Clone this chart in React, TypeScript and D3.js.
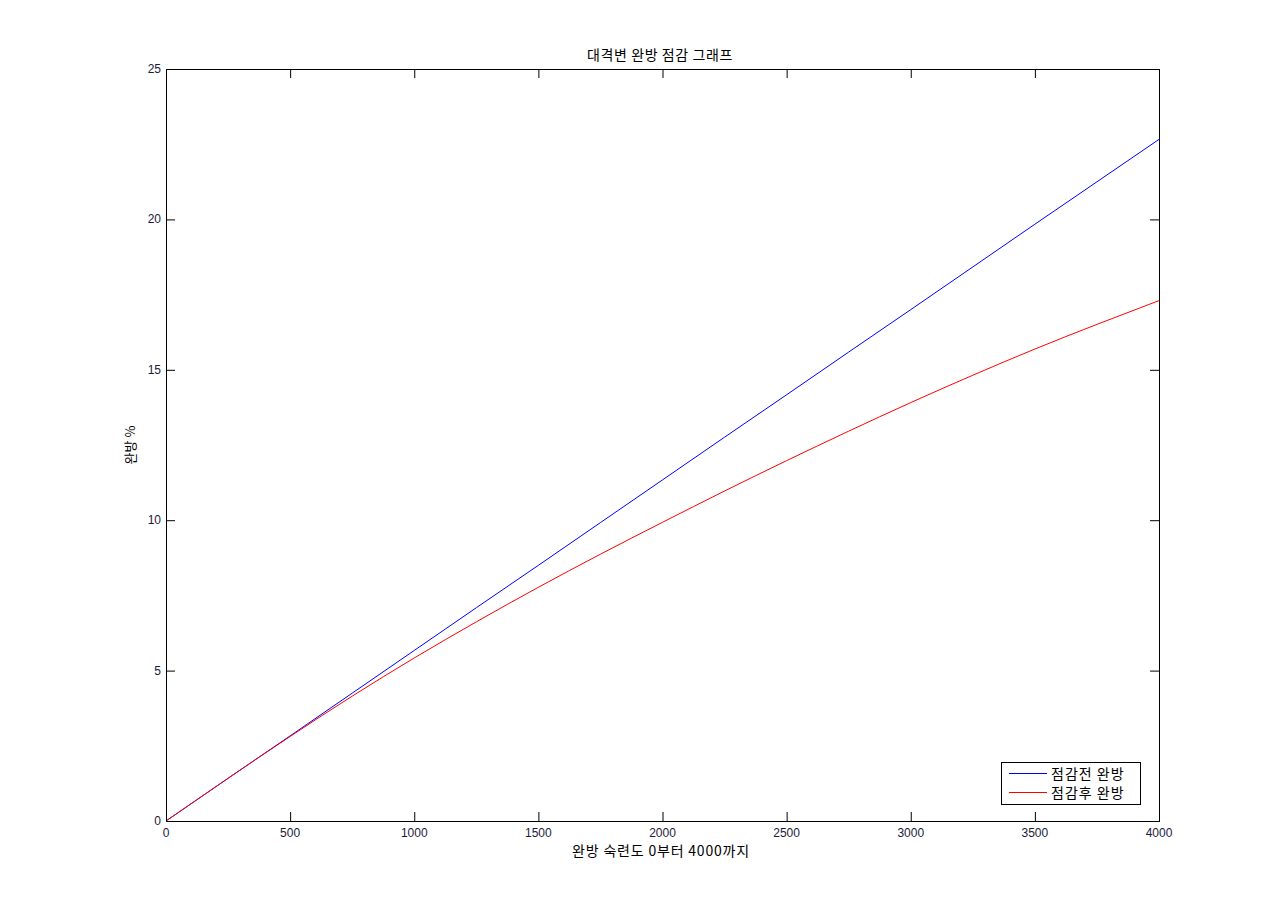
import React from "react";
import * as d3 from "d3";

const xValues = [0, 250, 500, 750, 1000, 1250, 1500, 1750, 2000, 2250, 2500, 2750, 3000, 3250, 3500, 3750, 4000];
const beforeValues = [0, 1.42, 2.83, 4.25, 5.67, 7.09, 8.5, 9.92, 11.34, 12.76, 14.17, 15.59, 17.0, 18.42, 19.84, 21.25, 22.66];
const afterValues = [0, 1.42, 2.81, 4.15, 5.42, 6.62, 7.77, 8.87, 9.93, 10.97, 11.98, 12.96, 13.91, 14.82, 15.69, 16.51, 17.3];
const xTicks = [0, 500, 1000, 1500, 2000, 2500, 3000, 3500, 4000];
const yTicks = [0, 5, 10, 15, 20, 25];
const seriesNames = ["점감전 완방", "점감후 완방"];
const seriesColors = ["#0000ff", "#ff0000"];
const title = "대격변 완방 점감 그래프";
const xLabel = "완방 숙련도 0부터 4000까지";
const yLabel = "완방 %";

export default function App() {
  const W = 1280, H = 922;
  const L = 166, R = 1159, T = 69, B = 821;
  const x = d3.scaleLinear().domain([0, 4000]).range([L, R]);
  const y = d3.scaleLinear().domain([0, 25]).range([B, T]);
  const line = d3.line<number>().x((_, i) => x(xValues[i])).y((d) => y(d)).curve(d3.curveNatural);
  const series = [beforeValues, afterValues];
  const tickLen = 9;
  const tickFont = "Arial, 'Liberation Sans', sans-serif";
  const krFont = "'Noto Sans CJK KR', sans-serif";
  const tickColor = "#1a1a3a";
  const legX = 1001, legY = 762, legW = 139, legH = 42;
  return (
    <svg width={W} height={H} style={{ position: "absolute", left: 0, top: 0, background: "#fff" }}>
      <rect x={0} y={0} width={W} height={H} fill="#fff" />
      {series.map((s, i) => (
        <path key={i} d={line(s) || ""} fill="none" stroke={seriesColors[i]} strokeWidth={1} />
      ))}
      <rect x={L + 0.5} y={T + 0.5} width={R - L} height={B - T} fill="none" stroke="#000" strokeWidth={1} />
      {xTicks.map((t) => (
        <g key={"x" + t}>
          <line x1={x(t) + 0.5} x2={x(t) + 0.5} y1={B} y2={B - tickLen} stroke="#000" />
          <line x1={x(t) + 0.5} x2={x(t) + 0.5} y1={T} y2={T + tickLen} stroke="#000" />
          <text x={x(t)} y={B + 16} textAnchor="middle" fontFamily={tickFont} fontSize={12} fill={tickColor}>{t}</text>
        </g>
      ))}
      {yTicks.map((t) => (
        <g key={"y" + t}>
          <line x1={L} x2={L + tickLen} y1={y(t) + 0.5} y2={y(t) + 0.5} stroke="#000" />
          <line x1={R} x2={R - tickLen} y1={y(t) + 0.5} y2={y(t) + 0.5} stroke="#000" />
          <text x={L - 5} y={y(t) + 4} textAnchor="end" fontFamily={tickFont} fontSize={12} fill={tickColor}>{t}</text>
        </g>
      ))}
      <text x={660} y={60} textAnchor="middle" fontFamily={krFont} fontSize={14} letterSpacing={0.6} fill="#000">{title}</text>
      <text x={661} y={856} textAnchor="middle" fontFamily={krFont} fontSize={14} letterSpacing={0.8} fill="#000">{xLabel}</text>
      <text transform={`translate(135, ${(T + B) / 2}) rotate(-90)`} textAnchor="middle" fontFamily={krFont} fontSize={13} fill="#000">{yLabel}</text>
      <rect x={legX + 0.5} y={legY + 0.5} width={legW} height={legH} fill="#fff" stroke="#000" />
      {seriesNames.map((n, i) => (
        <g key={n}>
          <line x1={legX + 8} x2={legX + 46} y1={legY + 11.5 + i * 19} y2={legY + 11.5 + i * 19} stroke={seriesColors[i]} />
          <text x={legX + 50} y={legY + 17 + i * 19} fontFamily={krFont} fontSize={14} letterSpacing={1} fill="#000">{n}</text>
        </g>
      ))}
    </svg>
  );
}
